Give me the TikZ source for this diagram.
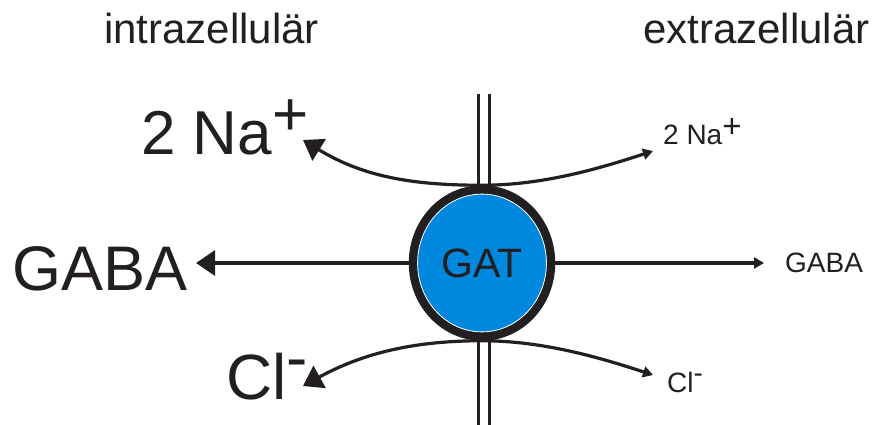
\documentclass[tikz,border=0pt]{standalone}
\usepackage{fontspec}
\setmainfont{Liberation Sans}
\usetikzlibrary{shapes.geometric,arrows.meta}
\definecolor{ink}{RGB}{35,31,32}
\definecolor{gatblue}{RGB}{0,135,222}
\newcommand{\fs}[1]{\fontsize{#1}{#1}\selectfont}

\begin{document}
\begin{tikzpicture}[x=1pt, y=-1pt, every node/.style={text=ink, inner sep=0pt, anchor=base west},
	bigtip/.style={-{Triangle[length=19pt, width=25pt]}},
	smalltip/.style={-{Triangle[length=10pt, width=11pt]}},
	flow/.style={draw=ink, line width=3.2pt}]
	\useasboundingbox (0,0) rectangle (873,425);
	% membrane
	\draw[ink, line width=3pt] (478,94) -- (478,425) (489.5,94) -- (489.5,425);
	% transporter
	\node[ellipse, draw=ink, fill=gatblue, line width=8.5pt, minimum width=138pt, minimum height=147pt, anchor=center, font=\fs{41}] (gat) at (482,263) {GAT};
	\draw[white, line width=0.8pt] (gat.center) ellipse [x radius=64.4pt, y radius=68.9pt];
	% labels
	\node[font=\fs{42}] (intra) at (104,44) {intrazellulär};
	\node[font=\fs{42}] (extra) at (643,44) {extrazellulär};
	\node[font=\fs{62}] (naL) at (141,155) {2 Na\raisebox{19pt}{+}};
	\node[font=\fs{63}] (gabaL) at (12,290) {GABA};
	\node[font=\fs{64}] (clL) at (226,399) {Cl\raisebox{20pt}{-}};
	\node[font=\fs{28}] (naR) at (663,145) {2 Na\raisebox{7pt}{\fs{33}+}};
	\node[font=\fs{28}] (gabaR) at (785,272) {GABA};
	\node[font=\fs{28}] (clR) at (667,392) {Cl\raisebox{10pt}{-}};
	% arrow ends
	\coordinate (naTipL) at (303,140);
	\coordinate (naTipR) at (653,151);
	\coordinate (gabaTipL) at (196,263);
	\coordinate (gabaTipR) at (764,263);
	\coordinate (clTipL) at (303,386);
	\coordinate (clTipR) at (653,375);
	% fluxes
	\draw[flow, bigtip] (gat.north) .. controls +(-65,0) and +(62,38) .. (naTipL);
	\draw[flow, smalltip] (gat.north) .. controls +(60,0) and +(-55,18) .. (naTipR);
	\draw[flow, bigtip] (gat.west) -- (gabaTipL);
	\draw[flow, smalltip] (gat.east) -- (gabaTipR);
	\draw[flow, bigtip] (gat.south) .. controls +(-65,0) and +(62,-34) .. (clTipL);
	\draw[flow, smalltip] (gat.south) .. controls +(60,0) and +(-55,-18) .. (clTipR);
\end{tikzpicture}
\end{document}
